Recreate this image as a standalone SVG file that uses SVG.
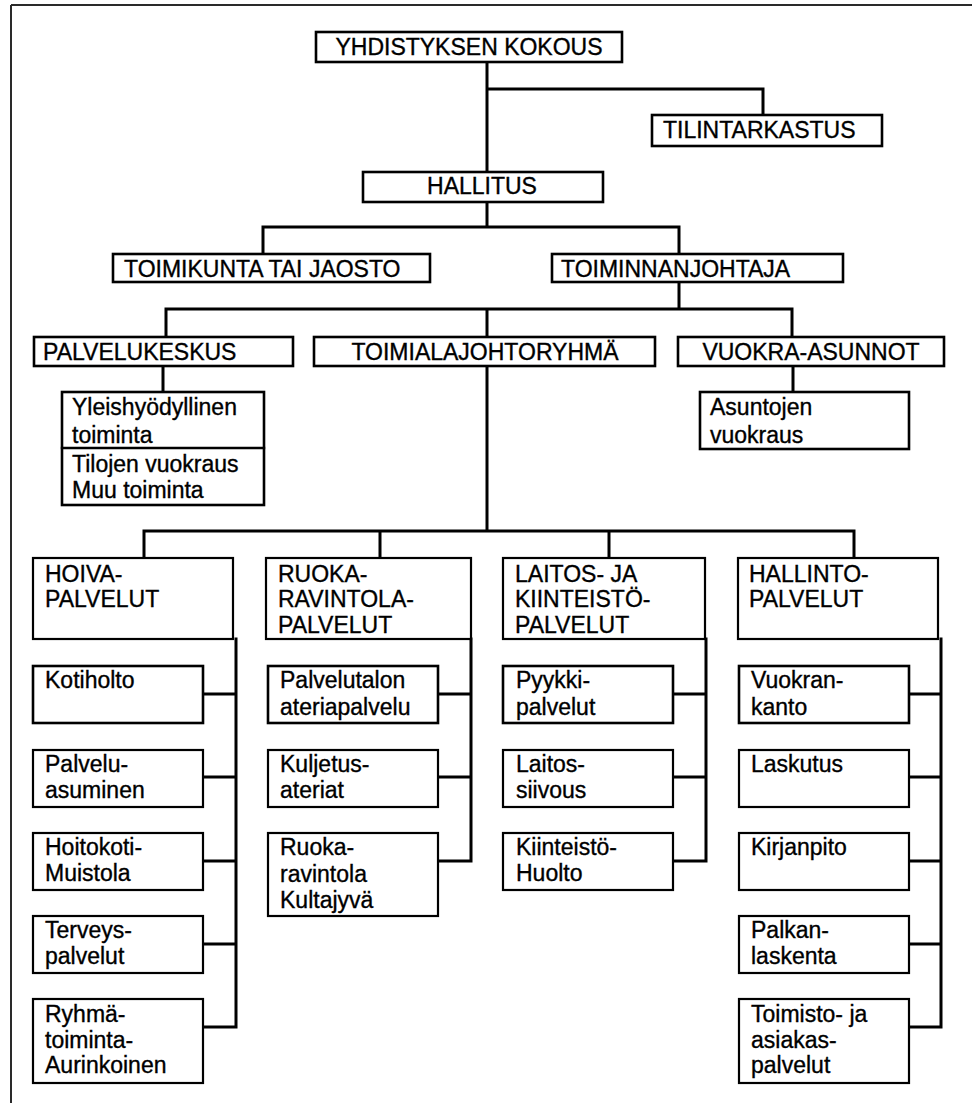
<svg xmlns="http://www.w3.org/2000/svg" width="972" height="1103" viewBox="0 0 972 1103">
  <style>
    .frame { fill: none; stroke: #2a2a2a; stroke-width: 2; }
    .box { fill: #ffffff; stroke: #000000; stroke-width: 2.6; }
    .sub { fill: #ffffff; stroke: #000000; stroke-width: 2.2; }
    .line { fill: none; stroke: #000000; stroke-width: 3; stroke-linecap: square; }
    text { font-family: "Liberation Sans", Arial, Helvetica, sans-serif; font-size: 23px; fill: #000000; stroke: #000000; stroke-width: 0.35; }
    .c { text-anchor: middle; }
  </style>

  <!-- page frame -->
  <path class="frame" d="M11,5 H972 M11,5 V1103"/>

  <!-- connectors -->
  <g id="connectors">
    <path class="line" d="M487,62 V172 M487,89 H763 V115"/>
    <path class="line" d="M487,202 V227 M263,254 V227 H679 V254"/>
    <path class="line" d="M679,282 V309 M166,337 V309 H792 V337 M487,309 V337"/>
    <path class="line" d="M163,366 V392 M793,366 V392"/>
    <path class="line" d="M487,366 V531 M144,558 V531 H854 V558 M380,531 V558 M609,531 V558"/>
    <!-- column branches -->
    <path class="line" d="M236,639 V1027 M203,694 H236 M203,777 H236 M203,861 H236 M203,944 H236 M203,1027 H236"/>
    <path class="line" d="M471,639 V861 M438,694 H471 M438,777 H471 M438,861 H471"/>
    <path class="line" d="M706,639 V861 M673,694 H706 M673,777 H706 M673,861 H706"/>
    <path class="line" d="M941,639 V1027 M909,694 H941 M909,777 H941 M909,861 H941 M909,944 H941 M909,1027 H941"/>
  </g>

  <!-- upper levels -->
  <g id="yhdistyksen-kokous">
    <rect class="box" x="316" y="32" width="306" height="30"/>
    <text class="c" x="469" y="55">YHDISTYKSEN KOKOUS</text>
  </g>
  <g id="tilintarkastus">
    <rect class="box" x="652" y="115" width="230" height="31"/>
    <text x="663" y="138">TILINTARKASTUS</text>
  </g>
  <g id="hallitus">
    <rect class="box" x="363" y="172" width="240" height="30"/>
    <text class="c" x="482" y="194">HALLITUS</text>
  </g>
  <g id="toimikunta">
    <rect class="box" x="113" y="254" width="317" height="28"/>
    <text x="124" y="277">TOIMIKUNTA TAI JAOSTO</text>
  </g>
  <g id="toiminnanjohtaja">
    <rect class="box" x="552" y="254" width="291" height="28"/>
    <text x="561" y="277">TOIMINNANJOHTAJA</text>
  </g>
  <g id="palvelukeskus">
    <rect class="box" x="34" y="337" width="259" height="29"/>
    <text x="43" y="360">PALVELUKESKUS</text>
  </g>
  <g id="toimialajohtoryhma">
    <rect class="box" x="314" y="337" width="341" height="29"/>
    <text class="c" x="485" y="360">TOIMIALAJOHTORYHMÄ</text>
  </g>
  <g id="vuokra-asunnot">
    <rect class="box" x="678" y="337" width="266" height="29"/>
    <text class="c" x="811" y="360">VUOKRA-ASUNNOT</text>
  </g>
  <g id="palvelukeskus-toiminnot">
    <rect class="box" x="62" y="392" width="202" height="113"/>
    <path class="line" d="M62,448 H264" style="stroke-width:2.4"/>
    <text x="72" y="415">Yleishyödyllinen</text>
    <text x="72" y="443">toiminta</text>
    <text x="72" y="472">Tilojen vuokraus</text>
    <text x="72" y="498">Muu toiminta</text>
  </g>
  <g id="asuntojen-vuokraus">
    <rect class="box" x="700" y="392" width="209" height="57"/>
    <text x="710" y="415">Asuntojen</text>
    <text x="710" y="443">vuokraus</text>
  </g>

  <!-- HOIVAPALVELUT column -->
  <g id="hoivapalvelut">
    <rect class="sub" x="33" y="558" width="200" height="81"/>
    <text x="45" y="582">HOIVA-</text>
    <text x="45" y="607">PALVELUT</text>
  </g>
  <g id="kotiholto">
    <rect class="box" x="33" y="666" width="170" height="57"/>
    <text x="45" y="688">Kotiholto</text>
  </g>
  <g id="palveluasuminen">
    <rect class="sub" x="33" y="750" width="170" height="57"/>
    <text x="45" y="772">Palvelu-</text>
    <text x="45" y="798">asuminen</text>
  </g>
  <g id="hoitokoti-muistola">
    <rect class="sub" x="33" y="833" width="170" height="57"/>
    <text x="45" y="855">Hoitokoti-</text>
    <text x="45" y="881">Muistola</text>
  </g>
  <g id="terveyspalvelut">
    <rect class="sub" x="33" y="916" width="170" height="57"/>
    <text x="45" y="938">Terveys-</text>
    <text x="45" y="964">palvelut</text>
  </g>
  <g id="ryhmatoiminta">
    <rect class="sub" x="33" y="999" width="170" height="84"/>
    <text x="45" y="1022">Ryhmä-</text>
    <text x="45" y="1048">toiminta-</text>
    <text x="45" y="1073">Aurinkoinen</text>
  </g>

  <!-- RUOKA- JA RAVINTOLAPALVELUT column -->
  <g id="ruokaravintolapalvelut">
    <rect class="sub" x="266" y="558" width="205" height="81"/>
    <text x="278" y="582">RUOKA-</text>
    <text x="278" y="607">RAVINTOLA-</text>
    <text x="278" y="633">PALVELUT</text>
  </g>
  <g id="palvelutalon-ateriapalvelu">
    <rect class="box" x="268" y="666" width="170" height="57"/>
    <text x="280" y="688">Palvelutalon</text>
    <text x="280" y="715">ateriapalvelu</text>
  </g>
  <g id="kuljetusateriat">
    <rect class="sub" x="268" y="750" width="170" height="57"/>
    <text x="280" y="772">Kuljetus-</text>
    <text x="280" y="798">ateriat</text>
  </g>
  <g id="kultajyva">
    <rect class="sub" x="268" y="833" width="170" height="83"/>
    <text x="280" y="855">Ruoka-</text>
    <text x="280" y="882">ravintola</text>
    <text x="280" y="908">Kultajyvä</text>
  </g>

  <!-- LAITOS- JA KIINTEISTÖPALVELUT column -->
  <g id="laitospalvelut">
    <rect class="sub" x="503" y="558" width="202" height="81"/>
    <text x="515" y="582">LAITOS- JA</text>
    <text x="515" y="607">KIINTEISTÖ-</text>
    <text x="515" y="633">PALVELUT</text>
  </g>
  <g id="pyykkipalvelut">
    <rect class="box" x="503" y="666" width="170" height="57"/>
    <text x="516" y="688">Pyykki-</text>
    <text x="516" y="715">palvelut</text>
  </g>
  <g id="laitossiivous">
    <rect class="sub" x="503" y="750" width="170" height="57"/>
    <text x="516" y="772">Laitos-</text>
    <text x="516" y="798">siivous</text>
  </g>
  <g id="kiinteistohuolto">
    <rect class="sub" x="503" y="833" width="170" height="57"/>
    <text x="516" y="855">Kiinteistö-</text>
    <text x="516" y="881">Huolto</text>
  </g>

  <!-- HALLINTOPALVELUT column -->
  <g id="hallintopalvelut">
    <rect class="sub" x="738" y="558" width="200" height="81"/>
    <text x="749" y="582">HALLINTO-</text>
    <text x="749" y="607">PALVELUT</text>
  </g>
  <g id="vuokrankanto">
    <rect class="box" x="739" y="666" width="170" height="57"/>
    <text x="751" y="688">Vuokran-</text>
    <text x="751" y="715">kanto</text>
  </g>
  <g id="laskutus">
    <rect class="sub" x="739" y="750" width="170" height="57"/>
    <text x="751" y="772">Laskutus</text>
  </g>
  <g id="kirjanpito">
    <rect class="sub" x="739" y="833" width="170" height="57"/>
    <text x="751" y="855">Kirjanpito</text>
  </g>
  <g id="palkanlaskenta">
    <rect class="sub" x="739" y="916" width="170" height="57"/>
    <text x="751" y="938">Palkan-</text>
    <text x="751" y="964">laskenta</text>
  </g>
  <g id="toimisto-asiakaspalvelut">
    <rect class="sub" x="739" y="999" width="170" height="84"/>
    <text x="751" y="1022">Toimisto- ja</text>
    <text x="751" y="1048">asiakas-</text>
    <text x="751" y="1073">palvelut</text>
  </g>
</svg>
